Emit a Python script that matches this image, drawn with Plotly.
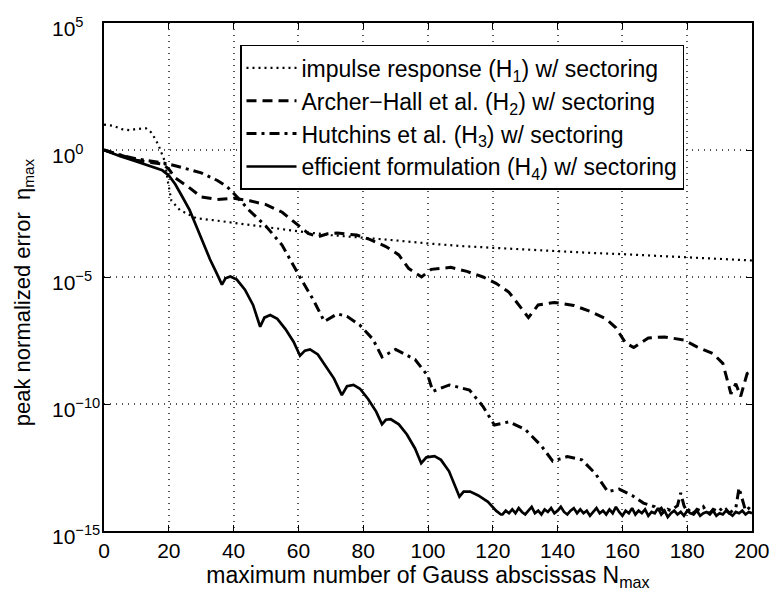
import plotly.graph_objects as go

# ---- data (log10 of peak normalized error) ----
h1_x = [0, 3, 5.5, 8, 10, 13, 14.5, 16, 17, 18.8, 19.8, 20.8, 23.4, 28.5, 33.6, 40, 50, 60, 70, 80, 90,
        100, 110, 120, 130, 140, 150, 160, 170, 180, 190, 200]
h1_log = [1.0, 0.95, 0.82, 0.78, 0.83, 0.85, 0.7, 0.4, 0.13, -0.46, -1.3, -2.0, -2.36, -2.69, -2.76, -2.87,
          -3.05, -3.2, -3.35, -3.45, -3.56, -3.68, -3.78, -3.85, -3.92, -3.98, -4.05, -4.1, -4.16, -4.23,
          -4.28, -4.35]

h2_x = [0, 5, 10, 15, 18, 20, 22, 26, 30, 35, 40, 45, 50, 55, 60, 63, 66, 69, 72, 78, 82, 87, 91, 94, 98,
        101, 107, 112, 117, 121, 125, 128, 131, 134, 139, 145, 150, 155, 158, 161, 163.5, 168, 173, 179,
        183, 188, 191, 193.5, 195, 196.5, 198.5, 200]
h2_log = [0, -0.2, -0.4, -0.5, -0.55, -0.75, -1.1, -1.45, -1.85, -1.95, -1.9, -2.0, -2.15, -2.45, -2.95,
          -3.28, -3.42, -3.3, -3.27, -3.35, -3.52, -3.8, -4.13, -4.66, -5.0, -4.7, -4.62, -4.78, -5.0,
          -5.25, -5.6, -6.1, -6.6, -6.1, -6.0, -6.12, -6.35, -6.65, -7.0, -7.6, -7.78, -7.4, -7.36, -7.48,
          -7.75, -8.02, -8.4, -9.6, -9.2, -9.7, -8.8, -8.7]

h3_x = [0, 5, 10, 15, 18, 22, 25, 30, 35, 38, 40, 45, 50, 55, 60, 64.6, 68, 72, 75, 79, 83, 85.8, 90, 96,
        100, 101.5, 106.6, 112.8, 117, 120.5, 125, 130, 135, 138.5, 143, 147.5, 151.6, 155.5, 159, 163,
        166.5,
        170, 171, 172, 173, 174, 175, 176, 177, 178, 179, 180, 181, 182, 183, 184, 185, 186, 187, 188, 189,
        190, 191, 192, 193, 194, 195, 196, 197, 198, 199, 200]
h3_log = [0, -0.2, -0.35, -0.45, -0.5, -0.62, -0.72, -0.9, -1.2, -1.45, -1.7, -2.4, -3.0, -3.75, -4.9,
          -5.9, -6.75, -6.45, -6.55, -6.9, -7.45, -8.15, -7.85, -8.25, -8.9, -9.5, -9.25, -9.45, -10.1,
          -10.83, -10.7, -11.0, -11.65, -12.25, -12.07, -12.2, -12.73, -13.45, -13.35, -13.6, -13.9,
          -14.05, -14.2, -14.1, -14.3, -14.15, -14.2, -14.1, -14.0, -13.5, -14.0, -14.25, -14.1, -14.3,
          -14.15, -14.2, -14.05, -14.25, -14.3, -14.15, -14.2, -14.1, -14.25, -14.15, -14.3, -14.2, -14.1,
          -13.3, -13.8, -14.2, -14.1, -14.2]

h4_x = [0, 5, 10, 15, 18, 20, 22, 24, 26.4, 28.5, 30.6, 32.7, 34.8, 36.4, 37.5, 39, 41, 43.5, 46, 48.2,
        49.5, 51.3, 53.5, 56, 58.5, 60.5, 62, 63.6, 66, 68.5, 71, 73.4, 75, 77, 79, 81.5, 84, 85.8, 87,
        88.5, 91, 93.5, 96, 97.9, 99.5, 102, 104, 106.5, 109.7, 111, 113, 115.5, 118.5, 121, 122.5] + \
       list(range(123, 201))
h4_log = [0, -0.25, -0.45, -0.65, -0.8, -1.0, -1.35, -1.8, -2.36, -3.0, -3.67, -4.3, -4.86, -5.3, -5.05,
          -4.98, -5.1, -5.5, -6.1, -6.96, -6.6, -6.5, -6.65, -7.05, -7.55, -8.1, -7.9, -7.85, -8.05, -8.5,
          -9.0, -9.65, -9.3, -9.25, -9.4, -9.8, -10.3, -10.8, -10.62, -10.6, -10.8, -11.2, -11.75, -12.33,
          -12.1, -12.05, -12.2, -12.65, -13.65, -13.45, -13.45, -13.6, -13.85, -14.2, -14.35] + [
    -14.35, -14.2, -14.3, -14.15, -14.3, -14.1, -14.25, -14.35, -14.2, -14.05, -14.3, -14.2, -14.35, -14.15,
    -14.25, -14.1, -14.3, -14.2, -14.05, -14.25, -14.35, -14.2, -14.1, -14.3, -14.15, -14.3, -14.2, -14.4,
    -14.25, -14.1, -14.3, -14.2, -14.35, -14.15, -14.3, -14.05, -14.25, -14.4, -14.2, -14.3, -14.1, -14.35,
    -14.2, -14.3, -14.15, -14.4, -14.25, -14.3, -14.1, -14.35, -14.2, -14.45, -14.3, -14.2, -14.35, -14.25,
    -14.4, -14.2, -14.3, -14.35, -14.2, -14.4, -14.3, -14.25, -14.35, -14.2, -14.4, -14.3, -14.35, -14.2,
    -14.3, -14.4, -14.25, -14.3, -14.2, -14.35, -14.25, -14.3]

names = ["impulse response (H<sub>1</sub>) w/ sectoring",
         "Archer\u2212Hall et al. (H<sub>2</sub>) w/ sectoring",
         "Hutchins et al. (H<sub>3</sub>) w/ sectoring",
         "efficient formulation (H<sub>4</sub>) w/ sectoring"]

x_ticks = [0, 20, 40, 60, 80, 100, 120, 140, 160, 180, 200]
y_exps = [5, 0, -5, -10, -15]
x_title = "maximum number of Gauss abscissas N<sub>max</sub>"
y_title = "peak normalized error  \u03b7<sub>max</sub>"

FONT = "Liberation Sans, Arial, Helvetica, sans-serif"
W, H = 773, 598
ML, MR, MT, MB = 104, 21, 23, 67
PW = W - ML - MR

fig = go.Figure()
series = [(h1_x, h1_log, "2px,4px", 2.2), (h2_x, h2_log, "10px,6px", 3),
          (h3_x, h3_log, "10px,5px,3px,5px", 3), (h4_x, h4_log, "solid", 2.7)]
for (xs, ls, dash, w), nm in zip(series, names):
    fig.add_trace(go.Scatter(x=xs, y=[10 ** v for v in ls], mode="lines", name=nm,
                             line=dict(color="black", dash=dash, width=w)))

# left-aligned y tick labels (MATLAB style)
for e in y_exps:
    txt = "10<sup>%s</sup>" % (str(e) if e >= 0 else "\u2212" + str(-e))
    fig.add_annotation(text=txt, xref="paper", yref="y", x=(50 - ML) / PW, y=e,
                       xanchor="left", yanchor="middle", yshift=-4, showarrow=False,
                       font=dict(size=21))

fig.add_annotation(text=y_title, xref="paper", yref="paper", x=(24 - ML) / PW, y=0.47,
                   xanchor="center", yanchor="middle", textangle=-90, showarrow=False,
                   font=dict(size=22))

fig.update_layout(
    width=W, height=H,
    margin=dict(l=ML, r=MR, t=MT, b=MB),
    paper_bgcolor="white", plot_bgcolor="white",
    font=dict(family=FONT, size=21, color="black"),
    showlegend=True,
    legend=dict(x=(240 - ML) / PW, y=0.957, xanchor="left", yanchor="top", bgcolor="white",
                bordercolor="black", borderwidth=1.5, font=dict(size=23), tracegroupgap=0,
                itemwidth=50),
)
fig.update_xaxes(range=[0, 200], tickvals=x_ticks, ticks="inside", ticklen=6, tickcolor="black",
                 showline=True, linecolor="black", linewidth=1.5, mirror="ticks",
                 showgrid=True, gridcolor="#555", griddash="1px,5px", gridwidth=1.5, zeroline=False,
                 tickfont=dict(size=21), automargin=False,
                 title=dict(text=x_title, font=dict(size=23), standoff=2))
fig.update_yaxes(type="log", range=[-15, 5], tickvals=[10.0 ** e for e in y_exps],
                 showticklabels=False,
                 ticks="inside", ticklen=6, tickcolor="black",
                 showline=True, linecolor="black", linewidth=1.5, mirror="ticks",
                 showgrid=True, gridcolor="#555", griddash="1px,5px", gridwidth=1.5, zeroline=False,
                 automargin=False)

fig.write_html("out.html")
